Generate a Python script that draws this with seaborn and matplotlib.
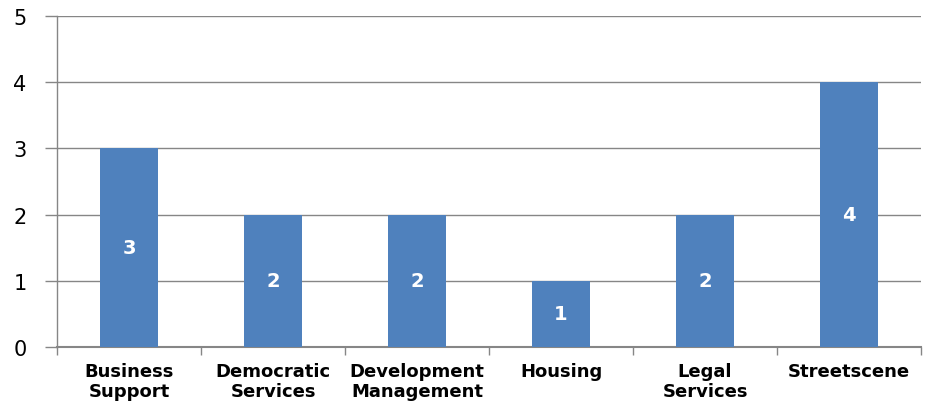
import matplotlib
matplotlib.use("Agg")
import matplotlib.pyplot as plt
import seaborn as sns
import pandas as pd
import numpy as np

categories = ["Business\nSupport", "Democratic\nServices", "Development\nManagement",
              "Housing", "Legal\nServices", "Streetscene"]
values = [3, 2, 2, 1, 2, 4]
yticks = [0, 1, 2, 3, 4, 5]

sns.set_style("white")
plt.rcParams['font.family'] = ['DejaVu Sans']

df = pd.DataFrame({"cat": categories, "val": values})
fig = plt.figure(figsize=(9.26, 4.06), dpi=100)
ax = fig.add_axes([57/926, 1 - 348/406, (921 - 57)/926, (348 - 17)/406])

sns.barplot(data=df, x="cat", y="val", color="#4F81BD", saturation=1, width=0.4,
            ax=ax, zorder=3, edgecolor="none", linewidth=0)

grid_c = "#868686"
ax.set_ylim(0, 5)
ax.set_xlim(-0.5, len(categories) - 0.5)
ax.set_yticks(yticks)
ax.set_yticklabels([str(t) for t in yticks], fontsize=15, color="black")
for t in yticks[1:]:
    ax.axhline(t, color=grid_c, lw=1, zorder=1)

for s in ["top", "right"]:
    ax.spines[s].set_visible(False)
ax.spines["left"].set_color(grid_c)
ax.spines["bottom"].set_color(grid_c)
ax.spines["bottom"].set_linewidth(1.5)
ax.spines["left"].set_linewidth(1)

ax.tick_params(axis="y", left=True, length=9, color=grid_c, width=1, pad=13)
ax.set_xticks(range(len(categories)))
ax.set_xticklabels(categories, fontsize=13, fontweight="bold", linespacing=1.15, color="black")
ax.tick_params(axis="x", which="major", bottom=False, length=0, pad=11)
ax.set_xticks(np.arange(-0.5, len(categories)), minor=True)
ax.tick_params(axis="x", which="minor", bottom=True, length=6, color=grid_c, width=1)
ax.set_xlabel("")
ax.set_ylabel("")

for i, v in enumerate(values):
    ax.text(i, v / 2, str(v), ha="center", va="center", color="white",
            fontsize=14, fontweight="bold", zorder=4)

fig.savefig("out.png", dpi=100)
